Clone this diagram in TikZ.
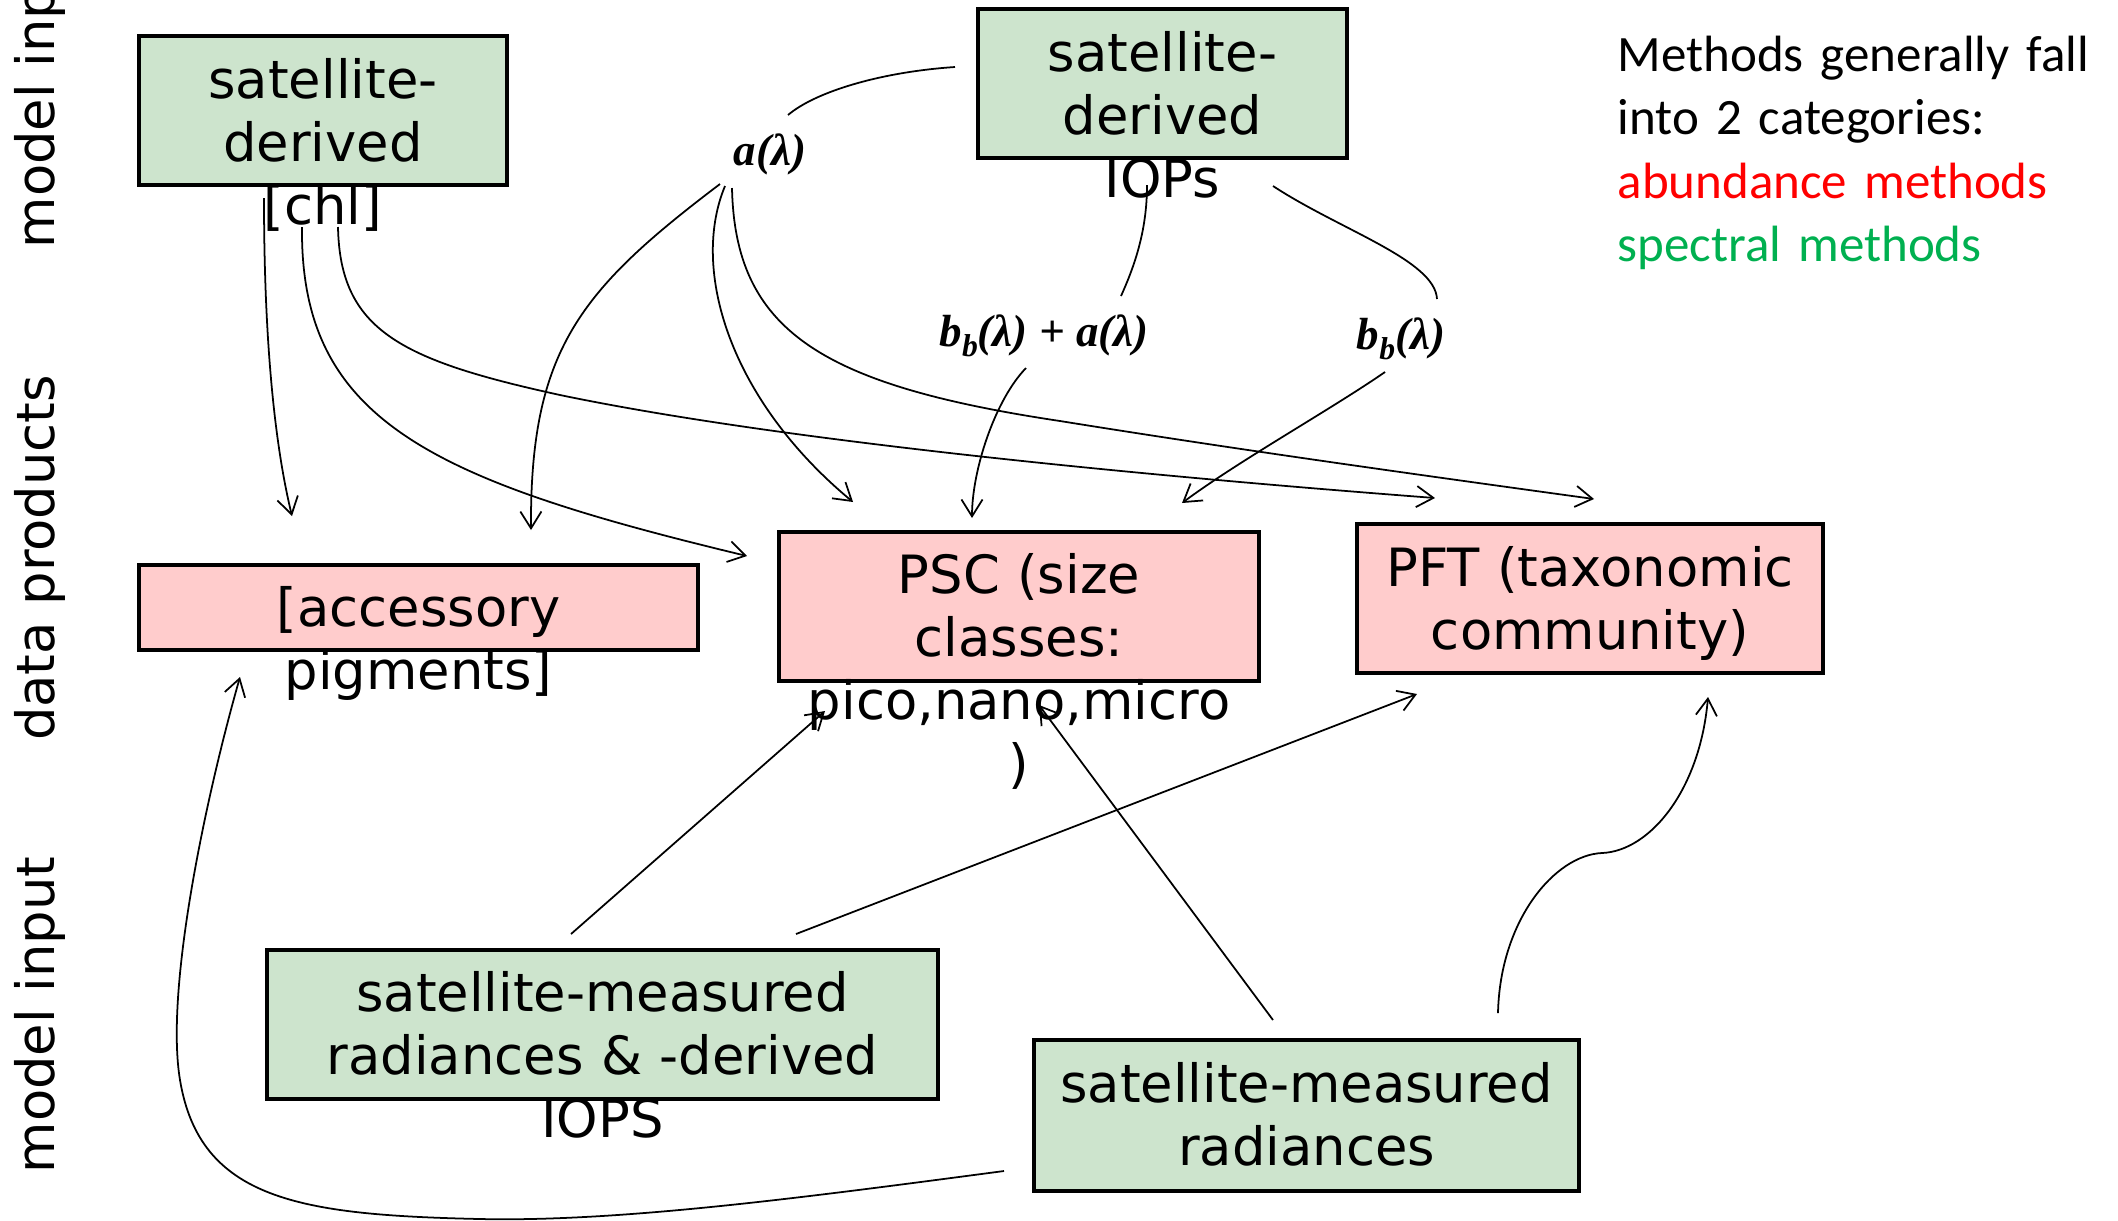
\documentclass[tikz,border=0pt]{standalone}
\usepackage{fontspec}
\setmainfont{DejaVu Sans}
\newfontfamily\notefont{Carlito}
\newfontfamily\iopfont{Liberation Serif}
\usetikzlibrary{arrows.meta}

\definecolor{inputfill}{RGB}{205,228,205}
\definecolor{productfill}{RGB}{255,204,204}
\definecolor{abundcol}{RGB}{255,0,0}
\definecolor{spectcol}{RGB}{0,176,80}

\newcommand{\bsub}{\raisebox{-0.22em}{\fontsize{9}{9}\selectfont b}}

\begin{document}
\begin{tikzpicture}[x=0.01cm,y=-0.01cm,
  inputbox/.style={draw=black, line width=1.1pt, fill=inputfill, inner sep=0pt},
  productbox/.style={draw=black, line width=1.1pt, fill=productfill, inner sep=0pt},
  boxtext/.style={font=\fontsize{15}{18}\selectfont, align=center, inner sep=0pt,
    anchor=base, text width=7cm},
  sidelabel/.style={font=\fontsize{15}{18}\selectfont, rotate=90, inner sep=0pt},
  ioplabel/.style={font=\iopfont\bfseries\itshape\fontsize{12.8}{14}\selectfont, inner sep=0pt},
  notetext/.style={font=\notefont\fontsize{14.5}{18.1}\selectfont, align=left, inner sep=0pt,
    anchor=base west, text width=6cm},
  link/.style={line width=0.5pt, -{Straight Barb[length=4.8pt,width=6pt]}},
  plainlink/.style={line width=0.5pt}
]
\useasboundingbox (0,0) rectangle (2118,1220);
\clip (0,0) rectangle (2118,1220);

% row labels
\node[sidelabel] (rowTop) at (40,90) {model input};
\node[sidelabel] (rowMid) at (40,558) {data products};
\node[sidelabel] (rowBot) at (40,1015) {model input};

% input boxes
\node[inputbox, minimum width=3.68cm, minimum height=1.49cm] (chl) at (323,110.5) {};
\node[boxtext] (chlT) at (323,98) {satellite-\\derived\\{[}chl{]}};
\node[inputbox, minimum width=3.69cm, minimum height=1.49cm] (iops) at (1162.5,83.5) {};
\node[boxtext] (iopsT) at (1162.5,71) {satellite-\\derived\\IOPs};
\node[inputbox, minimum width=6.71cm, minimum height=1.49cm] (radiop) at (602.5,1024.5) {};
\node[boxtext] (radiopT) at (602.5,1011) {satellite-measured\\radiances \& -derived\\IOPS};
\node[inputbox, minimum width=5.45cm, minimum height=1.51cm] (rad) at (1306.5,1115.5) {};
\node[boxtext] (radT) at (1306.5,1102) {satellite-measured\\radiances};

% product boxes
\node[productbox, minimum width=5.59cm, minimum height=0.85cm] (acc) at (418.5,607.5) {};
\node[boxtext] (accT) at (418.5,626) {{[}accessory\\pigments{]}};
\node[productbox, minimum width=4.80cm, minimum height=1.49cm] (psc) at (1019,606.5) {};
\node[boxtext] (pscT) at (1019,593) {PSC (size\\classes:\\pico,nano,micro\\)};
\node[productbox, minimum width=4.65cm, minimum height=1.49cm] (pft) at (1590,598.5) {};
\node[boxtext] (pftT) at (1590,586) {PFT (taxonomic\\community)};

% optical property labels
\node[ioplabel] (aL) at (770,154) {a(λ)};
\node[ioplabel] (bbaL) at (1044,336) {b\bsub(λ) + a(λ)};
\node[ioplabel] (bbL) at (1401,339) {b\bsub(λ)};

% note on method categories
\node[notetext] (note) at (1617,71) {Methods generally fall\\into 2 categories:\\
  \textcolor{abundcol}{abundance methods}\\\textcolor{spectcol}{spectral methods}};

% connector end points
\coordinate (chlO1) at (264,198);   \coordinate (accI1) at (292,516);
\coordinate (chlO2) at (302,227);   \coordinate (pscI1) at (747,556);
\coordinate (chlO3) at (338,227);   \coordinate (pftI1) at (1435,498);
\coordinate (iopsO1) at (955,67);   \coordinate (aIn) at (788,115);
\coordinate (aO1) at (720,184);     \coordinate (accI2) at (531,530);
\coordinate (aO2) at (725,186);     \coordinate (pscI2) at (853,502);
\coordinate (aO3) at (732,188);     \coordinate (pftI2) at (1594,499);
\coordinate (iopsO2) at (1147,185); \coordinate (bbaIn) at (1121,296);
\coordinate (iopsO3) at (1273,186); \coordinate (bbIn) at (1437,299);
\coordinate (bbaO) at (1026,368);   \coordinate (pscI3) at (972,518);
\coordinate (bbO) at (1385,372);    \coordinate (pscI4) at (1182,503);
\coordinate (radiopO1) at (571,934); \coordinate (pscI5) at (825,711);
\coordinate (radiopO2) at (796,934); \coordinate (pftI3) at (1417,694);
\coordinate (radO1) at (1273,1020); \coordinate (pscI6) at (1039,705);
\coordinate (radO2) at (1498,1013); \coordinate (pftI4) at (1708,697);
\coordinate (radO3) at (1004,1171); \coordinate (accI3) at (240,677);

% [chl] links
\draw[link] (chlO1) .. controls (264,350) and (276,450) .. (accI1);
\draw[link] (chlO2) .. controls (300,420) and (430,480) .. (pscI1);
\draw[link] (chlO3) .. controls (340,330) and (400,360) .. (560,395)
  .. controls (800,445) and (1200,480) .. (pftI1);

% IOP links
\draw[plainlink] (iopsO1) .. controls (880,72) and (815,92) .. (aIn);
\draw[plainlink] (iopsO2) .. controls (1147,230) and (1135,265) .. (bbaIn);
\draw[plainlink] (iopsO3) .. controls (1340,230) and (1435,260) .. (bbIn);
\draw[link] (aO1) .. controls (580,290) and (530,350) .. (accI2);
\draw[link] (aO2) .. controls (690,270) and (730,400) .. (pscI2);
\draw[link] (aO3) .. controls (735,330) and (820,385) .. (1060,421)
  .. controls (1240,450) and (1420,475) .. (pftI2);
\draw[link] (bbaO) .. controls (995,400) and (972,470) .. (pscI3);
\draw[link] (bbO) .. controls (1330,410) and (1240,460) .. (pscI4);

% radiance links
\draw[link] (radiopO1) -- (pscI5);
\draw[link] (radiopO2) -- (pftI3);
\draw[link] (radO1) -- (pscI6);
\draw[link] (radO2) .. controls (1500,920) and (1555,855) .. (1602,853)
  .. controls (1650,851) and (1700,790) .. (pftI4);
\draw[link] (radO3) .. controls (800,1198) and (620,1222) .. (480,1219)
  .. controls (300,1215) and (200,1200) .. (180,1080)
  .. controls (165,990) and (205,800) .. (accI3);
\end{tikzpicture}
\end{document}
